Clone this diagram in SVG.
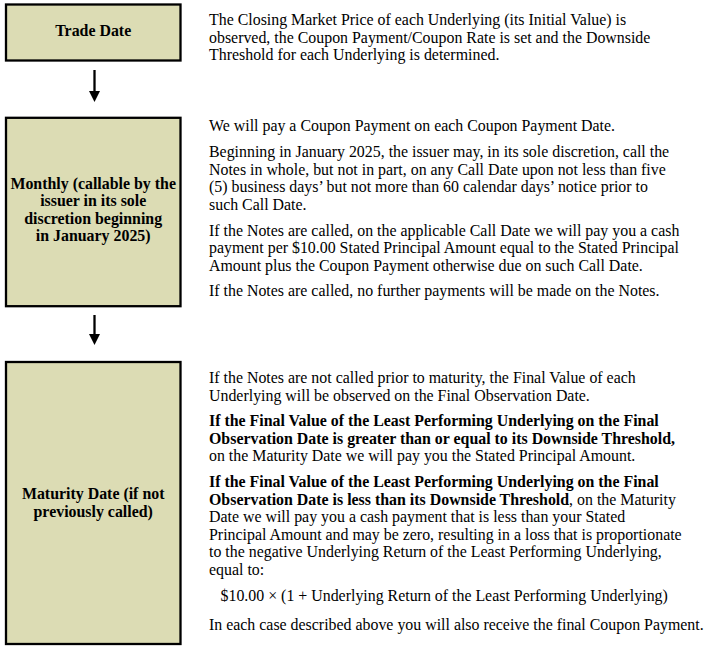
<svg xmlns="http://www.w3.org/2000/svg" width="704" height="646" viewBox="0 0 704 646">
<defs>
<style>
.box{fill:#dcdcb4;stroke:#000;stroke-width:2.3}
.lbl{font-family:"Liberation Serif","Times New Roman",serif;font-size:15.9px;font-weight:bold;fill:#000;text-anchor:middle}
.txt{font-family:"Liberation Serif","Times New Roman",serif;font-size:15.9px;fill:#000}
.b{font-weight:bold}
.conn{stroke:#000;stroke-width:2.3;fill:none}
</style>
<marker id="ah" markerUnits="userSpaceOnUse" markerWidth="12" markerHeight="12" refX="0" refY="5.5" orient="auto">
<path d="M0,0 L11,5.5 L0,11 Z" fill="#000"/>
</marker>
</defs>
<rect width="704" height="646" fill="#fff"/>
<g id="connectors">
<line class="conn" x1="94.5" y1="70" x2="94.5" y2="91" marker-end="url(#ah)"/>
<line class="conn" x1="94.5" y1="315" x2="94.5" y2="334" marker-end="url(#ah)"/>
</g>
<g id="trade-date">
<rect class="box" x="6" y="4.5" width="174.5" height="56"/>
<text class="lbl" x="93.2" y="36">Trade Date</text>
</g>
<g id="monthly">
<rect class="box" x="6" y="117.8" width="174.5" height="188.4"/>
<text class="lbl" x="93.2" y="188.5">Monthly (callable by the</text>
<text class="lbl" x="93.2" y="206">issuer in its sole</text>
<text class="lbl" x="93.2" y="223.5">discretion beginning</text>
<text class="lbl" x="93.2" y="241">in January 2025)</text>
</g>
<g id="maturity-date">
<rect class="box" x="6" y="362" width="174.5" height="282"/>
<text class="lbl" x="93.2" y="499">Maturity Date (if not</text>
<text class="lbl" x="93.2" y="516.5">previously called)</text>
</g>
<g id="trade-date-text" class="txt">
<text x="209" y="25">The Closing Market Price of each Underlying (its Initial Value) is</text>
<text x="209" y="42.5">observed, the Coupon Payment/Coupon Rate is set and the Downside</text>
<text x="209" y="60">Threshold for each Underlying is determined.</text>
</g>
<g id="monthly-text" class="txt">
<text x="209" y="131">We will pay a Coupon Payment on each Coupon Payment Date.</text>
<text x="209" y="157">Beginning in January 2025, the issuer may, in its sole discretion, call the</text>
<text x="209" y="174.5">Notes in whole, but not in part, on any Call Date upon not less than five</text>
<text x="209" y="192">(5) business days’ but not more than 60 calendar days’ notice prior to</text>
<text x="209" y="209.5">such Call Date.</text>
<text x="209" y="235.5">If the Notes are called, on the applicable Call Date we will pay you a cash</text>
<text x="209" y="253">payment per $10.00 Stated Principal Amount equal to the Stated Principal</text>
<text x="209" y="270.5">Amount plus the Coupon Payment otherwise due on such Call Date.</text>
<text x="209" y="296">If the Notes are called, no further payments will be made on the Notes.</text>
</g>
<g id="maturity-text" class="txt">
<text x="209" y="383">If the Notes are not called prior to maturity, the Final Value of each</text>
<text x="209" y="400.5">Underlying will be observed on the Final Observation Date.</text>
<text x="209" y="426" class="b">If the Final Value of the Least Performing Underlying on the Final</text>
<text x="209" y="443.5" class="b">Observation Date is greater than or equal to its Downside Threshold,</text>
<text x="209" y="461">on the Maturity Date we will pay you the Stated Principal Amount.</text>
<text x="209" y="487" class="b">If the Final Value of the Least Performing Underlying on the Final</text>
<text x="209" y="504.5"><tspan class="b">Observation Date is less than its Downside Threshold</tspan>, on the Maturity</text>
<text x="209" y="522">Date we will pay you a cash payment that is less than your Stated</text>
<text x="209" y="539.5">Principal Amount and may be zero, resulting in a loss that is proportionate</text>
<text x="209" y="557">to the negative Underlying Return of the Least Performing Underlying,</text>
<text x="209" y="574.5">equal to:</text>
<text x="220.5" y="601">$10.00 × (1 + Underlying Return of the Least Performing Underlying)</text>
<text x="209" y="630">In each case described above you will also receive the final Coupon Payment.</text>
</g>
</svg>
